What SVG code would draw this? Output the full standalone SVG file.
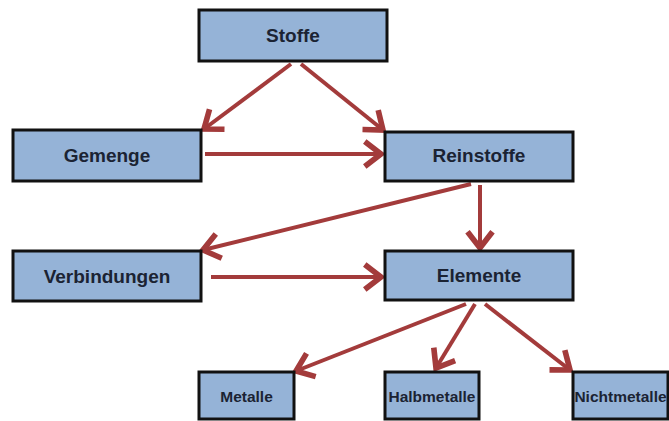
<svg xmlns="http://www.w3.org/2000/svg" width="669" height="421" viewBox="0 0 669 421">
<style>
.box{fill:#95B3D7;stroke:#111;stroke-width:3}
.t{font-family:"Liberation Sans",Arial,sans-serif;font-weight:bold;fill:#1b2333;text-anchor:middle}
.big{font-size:19px}
.small{font-size:15.5px}
.c{stroke:#A33B3B;stroke-width:4;fill:none;marker-end:url(#ah)}
</style>
<defs>
<marker id="ah" markerUnits="userSpaceOnUse" markerWidth="30" markerHeight="30" viewBox="-16 -12 20 24" refX="0" refY="0" orient="auto">
<path d="M-13,-10 L0,0 L-13,10" fill="none" stroke="#A33B3B" stroke-width="4.5" stroke-linejoin="miter"/>
</marker>
</defs>
<g id="connectors">
<line class="c" x1="291" y1="64" x2="204" y2="129"/>
<line class="c" x1="301" y1="64" x2="383" y2="130"/>
<line class="c" x1="205" y1="154" x2="381" y2="154"/>
<line class="c" x1="471" y1="184" x2="203" y2="250"/>
<line class="c" x1="480" y1="185" x2="480" y2="248"/>
<line class="c" x1="211" y1="277" x2="381" y2="277"/>
<line class="c" x1="466" y1="304" x2="296" y2="371"/>
<line class="c" x1="475" y1="304" x2="436" y2="368"/>
<line class="c" x1="485" y1="304" x2="570" y2="370"/>
</g>
<g id="stoffe"><rect class="box" x="199" y="10" width="188" height="51"/><text class="t big" x="293" y="42">Stoffe</text></g>
<g id="gemenge"><rect class="box" x="13" y="130" width="188" height="51"/><text class="t big" x="107" y="162">Gemenge</text></g>
<g id="reinstoffe"><rect class="box" x="385" y="132" width="188" height="49"/><text class="t big" x="479" y="162">Reinstoffe</text></g>
<g id="verbindungen"><rect class="box" x="13" y="251" width="188" height="50"/><text class="t big" x="107" y="283">Verbindungen</text></g>
<g id="elemente"><rect class="box" x="385" y="251" width="188" height="49"/><text class="t big" x="479" y="282">Elemente</text></g>
<g id="metalle"><rect class="box" x="199" y="372" width="95" height="47"/><text class="t small" x="246.5" y="402">Metalle</text></g>
<g id="halbmetalle"><rect class="box" x="385" y="372" width="94" height="47"/><text class="t small" x="432" y="402">Halbmetalle</text></g>
<g id="nichtmetalle"><rect class="box" x="573" y="372" width="95" height="47"/><text class="t small" x="620.5" y="402">Nichtmetalle</text></g>
</svg>
